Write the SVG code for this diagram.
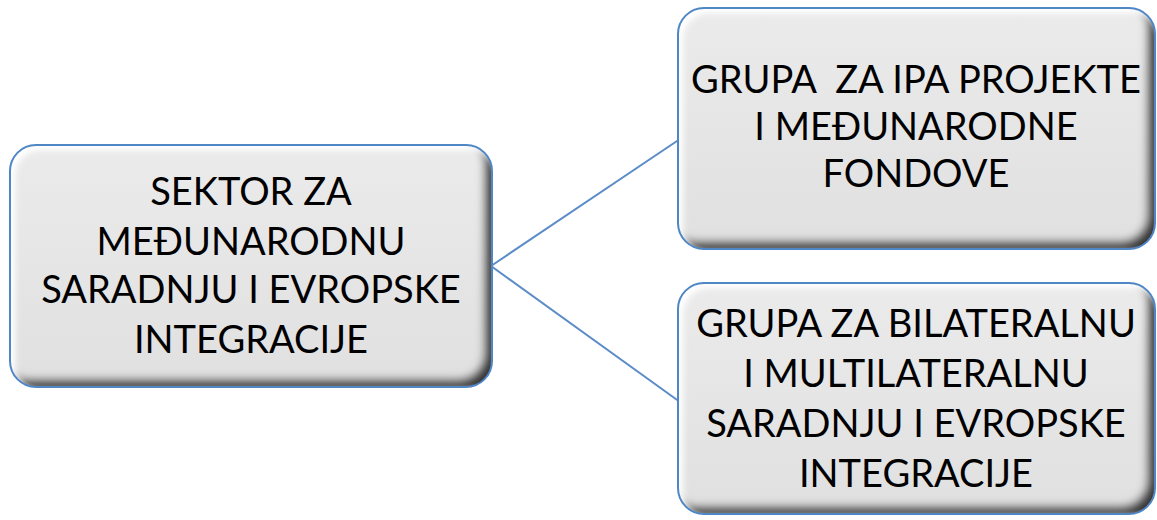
<svg xmlns="http://www.w3.org/2000/svg" width="1157" height="520" viewBox="0 0 1157 520">
<defs>
<linearGradient id="g" x1="0" y1="0" x2="0" y2="1">
<stop offset="0" stop-color="#ebebeb"/>
<stop offset="1" stop-color="#e0e0e0"/>
</linearGradient>
<filter id="bevel" x="-5%" y="-5%" width="110%" height="110%">
<feFlood flood-color="#000" flood-opacity="0.95" result="dark"/>
<feComposite in="dark" in2="SourceAlpha" operator="out" result="inv"/>
<feOffset in="inv" dx="-8" dy="-8" result="invOff"/>
<feGaussianBlur in="invOff" stdDeviation="4.5" result="invBlur"/>
<feComposite in="invBlur" in2="SourceAlpha" operator="in" result="shadowIn"/>
<feFlood flood-color="#fff" flood-opacity="1" result="light"/>
<feComposite in="light" in2="SourceAlpha" operator="out" result="inv2"/>
<feOffset in="inv2" dx="5" dy="5" result="inv2Off"/>
<feGaussianBlur in="inv2Off" stdDeviation="3" result="inv2Blur"/>
<feComposite in="inv2Blur" in2="SourceAlpha" operator="in" result="lightIn"/>
<feMerge>
<feMergeNode in="SourceGraphic"/>
<feMergeNode in="shadowIn"/>
<feMergeNode in="lightIn"/>
</feMerge>
</filter>
</defs>
<style>
.box{fill:url(#g);filter:url(#bevel);}
.edge{fill:none;stroke:#4f86c6;stroke-width:2;}
.lbl{font-family:Lato,"Liberation Sans",sans-serif;font-size:38px;fill:#000;text-anchor:middle;}
.conn{stroke:#5b8cc8;stroke-width:2;fill:none;}
</style>
<g id="connectors">
<line class="conn" x1="491" y1="266" x2="680" y2="139"/>
<line class="conn" x1="491" y1="266" x2="680" y2="402"/>
</g>
<g id="node-sektor">
<rect class="box" x="10" y="145" width="482" height="242" rx="26"/>
<rect class="edge" x="10" y="145" width="482" height="242" rx="26"/>
<text class="lbl" x="251" y="205">SEKTOR ZA</text>
<text class="lbl" x="251" y="255">MEĐUNARODNU</text>
<text class="lbl" x="251" y="303">SARADNJU I EVROPSKE</text>
<text class="lbl" x="251" y="353">INTEGRACIJE</text>
</g>
<g id="node-ipa">
<rect class="box" x="678" y="8" width="477" height="241" rx="26"/>
<rect class="edge" x="678" y="8" width="477" height="241" rx="26"/>
<text class="lbl" x="916" y="93" xml:space="preserve">GRUPA  ZA IPA PROJEKTE</text>
<text class="lbl" x="916" y="140">I MEĐUNARODNE</text>
<text class="lbl" x="916" y="187">FONDOVE</text>
</g>
<g id="node-bilateral">
<rect class="box" x="678" y="283" width="477" height="231" rx="26"/>
<rect class="edge" x="678" y="283" width="477" height="231" rx="26"/>
<text class="lbl" x="916" y="337">GRUPA ZA BILATERALNU</text>
<text class="lbl" x="916" y="387">I MULTILATERALNU</text>
<text class="lbl" x="916" y="437">SARADNJU I EVROPSKE</text>
<text class="lbl" x="916" y="487">INTEGRACIJE</text>
</g>
</svg>
